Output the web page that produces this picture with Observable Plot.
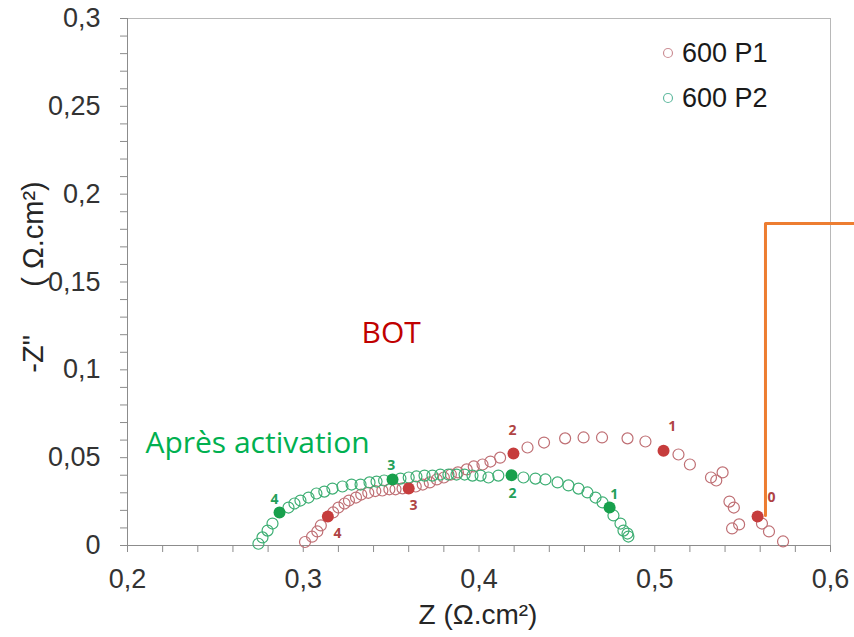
<!DOCTYPE html>
<html>
<head>
<meta charset="utf-8">
<script src="https://cdn.jsdelivr.net/npm/d3@7"></script>
<script src="https://cdn.jsdelivr.net/npm/@observablehq/plot@0.6"></script>
<style>
  body { margin: 0; background: #fff; }
  #chart { position: relative; width: 854px; height: 637px; }
</style>
</head>
<body>
<div id="chart"></div>
<script>
// Nyquist spectra: Z (real part) and -Z'' (imaginary part), Ω.cm²
const p1X = [0.301, 0.305, 0.308, 0.310, 0.317, 0.320, 0.3235, 0.326, 0.330, 0.333, 0.337, 0.341,
             0.345, 0.349, 0.3525, 0.3565, 0.364, 0.368, 0.372, 0.376, 0.380, 0.384, 0.388, 0.393,
             0.397, 0.402, 0.4065, 0.412, 0.4276, 0.437, 0.449, 0.4595, 0.470, 0.4845, 0.4947,
             0.5135, 0.520, 0.532, 0.535, 0.5386, 0.5425, 0.545, 0.544, 0.548, 0.561, 0.565, 0.573];
const p1Y = [0.002, 0.005, 0.008, 0.0114, 0.0188, 0.0216, 0.0239, 0.0256, 0.0273, 0.029, 0.030, 0.031,
             0.0313, 0.032, 0.032, 0.0325, 0.0336, 0.0347, 0.0359, 0.0376, 0.0387, 0.0404, 0.0416, 0.0433,
             0.045, 0.0461, 0.0478, 0.050, 0.0558, 0.0586, 0.061, 0.0615, 0.0615, 0.061, 0.0592,
             0.0518, 0.0461, 0.0387, 0.037, 0.0416, 0.025, 0.0216, 0.0097, 0.012, 0.0125, 0.008, 0.0023];

const p2X = [0.2745, 0.2768, 0.2797, 0.2825, 0.2916, 0.295, 0.2984, 0.303, 0.3075, 0.312, 0.3166,
             0.3223, 0.3275, 0.3326, 0.3377, 0.3417, 0.346, 0.3553, 0.360, 0.3644, 0.369, 0.3735,
             0.378, 0.3826, 0.3872, 0.3918, 0.3963, 0.4009, 0.4054, 0.411, 0.4253, 0.4321, 0.4378,
             0.4447, 0.4509, 0.4566, 0.4617, 0.4663, 0.4703, 0.4765, 0.4805, 0.4822, 0.4845, 0.485];
const p2Y = [0.001, 0.0046, 0.0085, 0.0125, 0.0216, 0.0239, 0.0256, 0.0273, 0.0296, 0.0307, 0.0324,
             0.0336, 0.0347, 0.0347, 0.0359, 0.0364, 0.037, 0.0381, 0.0387, 0.0393, 0.0398, 0.0398,
             0.0404, 0.0404, 0.0404, 0.0404, 0.0398, 0.0398, 0.0387, 0.0398, 0.0387, 0.0381, 0.0376,
             0.0359, 0.0342, 0.0324, 0.0302, 0.0273, 0.0245, 0.0171, 0.0125, 0.0085, 0.0068, 0.0051];

// Highlighted frequency points and their numbers
const p1MarkX = [0.5585, 0.505, 0.4196, 0.360, 0.314];
const p1MarkY = [0.0165, 0.054, 0.0524, 0.0325, 0.0165];
const p1MarkN = ["0", "1", "2", "3", "4"];
const p1NumX  = [0.5664, 0.510, 0.419, 0.3627, 0.3195];
const p1NumY  = [0.0273, 0.0677, 0.0655, 0.0228, 0.0068];

const p2MarkX = [0.4743, 0.4185, 0.3508, 0.2865];
const p2MarkY = [0.0216, 0.040, 0.0376, 0.0188];
const p2MarkN = ["1", "2", "3", "4"];
const p2NumX  = [0.477, 0.419, 0.350, 0.2836];
const p2NumY  = [0.029, 0.0296, 0.0455, 0.0262];

// Annotations
const noteText = ["BOT", "Après activation"];
const noteX = [0.35, 0.2102];
const noteY = [0.1207, 0.058];
const calloutX = [0.563, 0.563, 0.614];
const calloutY = [0.0171, 0.1833, 0.1833];

// Axes
const xMajor = [0.2, 0.3, 0.4, 0.5, 0.6];
const yMajor = [0, 0.05, 0.1, 0.15, 0.2, 0.25, 0.3];
const xMinor = d3.range(10, 31).map(i => i / 50);   // every 0.02
const yMinor = d3.range(0, 31).map(i => i / 100);   // every 0.01
const xTitle = "Z (Ω.cm²)";
const yTitle = "-Z\"\u00a0\u00a0\u00a0\u00a0\u00a0\u00a0( Ω.cm²)";

const series = ["600 P1", "600 P2"];
const seriesStroke = ["#bf6f74", "#3dae73"];
const legendStroke = ["#cc8f95", "#62baa0"];
const markFill = ["#c63c3c", "#17a04c"];
const numFill = ["#b04444", "#23a05a"];

const comma = d => String(d).replace(".", ",");
const sans = "'Liberation Sans', Arial, sans-serif";
const calibri = "'Open Sans', 'Noto Sans', sans-serif";

const plot = Plot.plot({
  width: 854,
  height: 637,
  marginLeft: 127,
  marginRight: 24,
  marginTop: 18,
  marginBottom: 92,
  x: {domain: [0.2, 0.6]},
  y: {domain: [0, 0.3]},
  style: {fontFamily: sans, background: "#fff"},
  marks: [
    Plot.frame({stroke: "#b8b8b8"}),
    Plot.ruleX([0.2], {stroke: "#8c8c8c"}),
    Plot.ruleY([0], {stroke: "#8c8c8c"}),
    Plot.axisX(xMinor, {tickSize: 7, tickFormat: () => "", stroke: "#8c8c8c", label: null}),
    Plot.axisY(yMinor, {tickSize: 7, tickFormat: () => "", stroke: "#8c8c8c", label: null}),
    Plot.axisX(xMajor, {tickSize: 0, tickPadding: 23, tickFormat: comma, fontSize: 27, fill: "#333", label: null}),
    Plot.axisY(yMajor, {tickSize: 0, tickPadding: 27, tickFormat: comma, fontSize: 27, fill: "#333", label: null}),
    Plot.line(calloutX, {x: calloutX, y: calloutY, stroke: "#ed7d31", strokeWidth: 3}),
    Plot.dot(p1X, {x: p1X, y: p1Y, r: 5.5, stroke: seriesStroke[0], strokeWidth: 1.2, fill: "none"}),
    Plot.dot(p2X, {x: p2X, y: p2Y, r: 5.5, stroke: seriesStroke[1], strokeWidth: 1.2, fill: "none"}),
    Plot.dot(p1MarkX, {x: p1MarkX, y: p1MarkY, r: 6, fill: markFill[0]}),
    Plot.dot(p2MarkX, {x: p2MarkX, y: p2MarkY, r: 6, fill: markFill[1]}),
    Plot.text(p1MarkN, {x: p1NumX, y: p1NumY, text: p1MarkN, fill: numFill[0], fontSize: 14, fontWeight: "bold", fontFamily: calibri}),
    Plot.text(p2MarkN, {x: p2NumX, y: p2NumY, text: p2MarkN, fill: numFill[1], fontSize: 14, fontWeight: "bold", fontFamily: calibri}),
    Plot.text([noteText[0]], {x: [noteX[0]], y: [noteY[0]], text: [noteText[0]], fill: "#c00000", fontSize: 30, fontFamily: calibri}),
    Plot.text([noteText[1]], {x: [noteX[1]], y: [noteY[1]], text: [noteText[1]], fill: "#00b050", fontSize: 30, fontFamily: calibri, textAnchor: "start"})
  ]
});

document.getElementById("chart").appendChild(plot);

// Axis titles and legend
const svg = d3.select(plot);
svg.append("text")
  .attr("transform", "translate(33,277) rotate(-90)")
  .attr("text-anchor", "middle").attr("dy", "0.35em")
  .attr("font-family", sans).attr("font-size", 29).attr("fill", "#262626")
  .text(yTitle);
svg.append("text")
  .attr("x", 478).attr("y", 614)
  .attr("text-anchor", "middle").attr("dy", "0.35em")
  .attr("font-family", sans).attr("font-size", 28).attr("fill", "#262626")
  .text(xTitle);

const legend = svg.append("g").attr("font-family", sans).attr("font-size", 27).attr("fill", "#1a1a1a");
series.forEach((name, i) => {
  const cy = 53 + i * 45;
  legend.append("circle").attr("cx", 668).attr("cy", cy).attr("r", 4.5)
    .attr("fill", "none").attr("stroke", legendStroke[i]).attr("stroke-width", 1.2);
  legend.append("text").attr("x", 682).attr("y", cy).attr("dy", "0.35em")
    .attr("text-anchor", "start").text(name);
});
</script>
</body>
</html>
